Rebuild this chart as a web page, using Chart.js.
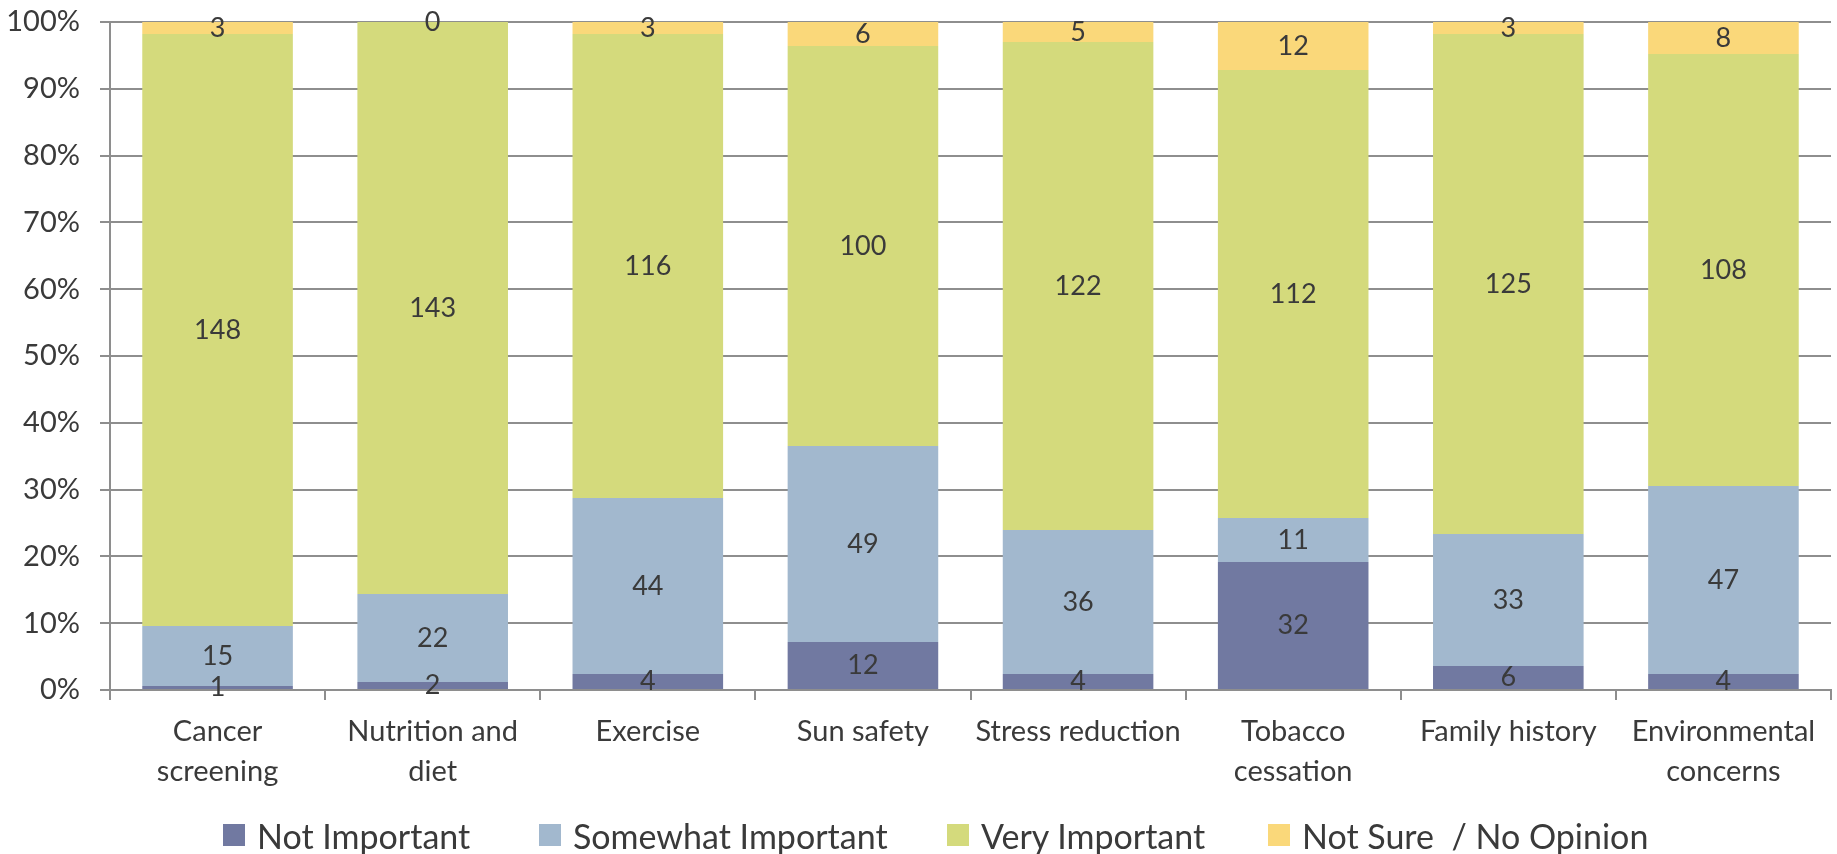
<!DOCTYPE html>
<html>
<head>
<meta charset="utf-8">
<title>Importance of health topics</title>
<script src="https://cdn.jsdelivr.net/npm/chart.js@4.4.0/dist/chart.umd.min.js"></script>
<style>
    html, body { margin: 0; padding: 0; background: #ffffff; }
    #wrap { position: relative; width: 1837px; height: 854px; }
    #legend {
        position: absolute; left: 0; top: 814px; width: 1837px; height: 42px;
        font-family: Lato, 'Open Sans', 'DejaVu Sans', sans-serif;
        font-size: 34px; color: #3a3a3a;
    }
    .item { position: absolute; top: 0; height: 42px; display: flex; align-items: center; white-space: pre; }
    .swatch { width: 22px; height: 22px; margin-right: 12px; }
</style>
</head>
<body>
<div id="wrap">
    <canvas id="topicsChart"></canvas>
    <div id="legend"></div>
</div>
<script>
// Survey topics (two-line labels on the x axis)
const topics = [
    ['Cancer', 'screening'],
    ['Nutrition and', 'diet'],
    ['Exercise'],
    ['Sun safety'],
    ['Stress reduction'],
    ['Tobacco', 'cessation'],
    ['Family history'],
    ['Environmental', 'concerns']
];

// Response counts per topic
const notImportant      = [1, 2, 4, 12, 4, 32, 6, 4];
const somewhatImportant = [15, 22, 44, 49, 36, 11, 33, 47];
const veryImportant     = [148, 143, 116, 100, 122, 112, 125, 108];
const notSure           = [3, 0, 3, 6, 5, 12, 3, 8];

const yTicks = [0, 10, 20, 30, 40, 50, 60, 70, 80, 90, 100];

// left edge of each legend entry
const legendLefts = [223, 539, 947, 1268];

const FONT = "Lato, 'Open Sans', 'DejaVu Sans', sans-serif";
const TEXT = '#3a3a3a';
const GRID = '#8e8e8e';

// totals per topic so each column fills 100%
const totals = topics.map((t, i) => notImportant[i] + somewhatImportant[i] + veryImportant[i] + notSure[i]);
const toPct = arr => arr.map((v, i) => v / totals[i] * 100);

function makeSet(label, counts, color) {
    return {
        label: label,
        data: toPct(counts),
        counts: counts,
        backgroundColor: color,
        borderWidth: 0,
        barPercentage: 0.7,
        categoryPercentage: 1.0
    };
}

// Count labels centred on each segment
const segmentLabels = {
    id: 'segmentLabels',
    afterDatasetsDraw(chart) {
        const ctx = chart.ctx;
        ctx.save();
        ctx.font = '27px ' + FONT;
        ctx.fillStyle = TEXT;
        ctx.textAlign = 'center';
        ctx.textBaseline = 'middle';
        chart.data.datasets.forEach((ds, di) => {
            const meta = chart.getDatasetMeta(di);
            meta.data.forEach((bar, i) => {
                const y = (bar.y + bar.base) / 2;
                ctx.fillText(String(ds.counts[i]), bar.x, y);
            });
        });
        ctx.restore();
    }
};

const chart = new Chart(document.getElementById('topicsChart'), {
    type: 'bar',
    data: {
        labels: topics,
        datasets: [
            makeSet('Not Important', notImportant, '#7179a1'),
            makeSet('Somewhat Important', somewhatImportant, '#a2b8ce'),
            makeSet('Very Important', veryImportant, '#d4da7c'),
            makeSet('Not Sure  / No Opinion', notSure, '#fad87a')
        ]
    },
    options: {
        responsive: true,
        maintainAspectRatio: false,
        animation: false,
        layout: { padding: { top: 22, right: 6, bottom: 64, left: 0 } },
        plugins: {
            tooltip: { enabled: false },
            legend: { display: false }
        },
        scales: {
            x: {
                stacked: true,
                offset: true,
                afterFit(scale) {
                    scale.height = 100;
                    scale.paddingLeft = 0;
                    scale.paddingRight = 0;
                },
                grid: {
                    offset: true,
                    drawOnChartArea: false,
                    color: GRID,
                    lineWidth: 2,
                    tickLength: 10
                },
                border: { color: GRID, width: 2 },
                ticks: {
                    font: { family: FONT, size: 29, lineHeight: 40 / 29 },
                    color: TEXT,
                    maxRotation: 0,
                    autoSkip: false,
                    padding: 12
                }
            },
            y: {
                stacked: true,
                min: 0,
                max: 100,
                afterBuildTicks(scale) {
                    scale.ticks = yTicks.map(v => ({ value: v }));
                },
                afterFit(scale) {
                    scale.width = 110;
                    scale.paddingTop = 0;
                    scale.paddingBottom = 0;
                },
                grid: {
                    color: GRID,
                    lineWidth: 2,
                    tickLength: 10
                },
                border: { color: GRID, width: 2 },
                ticks: {
                    font: { family: FONT, size: 29 },
                    color: TEXT,
                    padding: 20,
                    callback: v => v + '%'
                }
            }
        }
    },
    plugins: [segmentLabels]
});

// HTML legend below the axis
const legendBox = document.getElementById('legend');
chart.data.datasets.forEach((ds, i) => {
    const item = document.createElement('div');
    item.className = 'item';
    item.style.left = legendLefts[i] + 'px';
    const sw = document.createElement('span');
    sw.className = 'swatch';
    sw.style.background = ds.backgroundColor;
    const txt = document.createElement('span');
    txt.textContent = ds.label;
    item.appendChild(sw);
    item.appendChild(txt);
    legendBox.appendChild(item);
});
</script>
</body>
</html>
